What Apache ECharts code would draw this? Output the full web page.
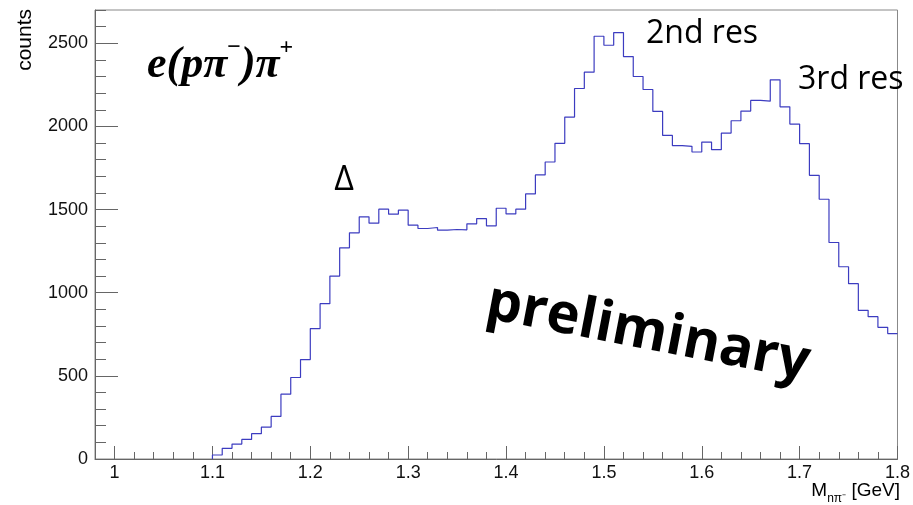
<!DOCTYPE html>
<html>
<head>
<meta charset="utf-8">
<script src="https://cdn.jsdelivr.net/npm/echarts@6/dist/echarts.min.js"></script>
<style>
  html, body { margin: 0; padding: 0; background: #fff; }
  #chart { width: 913px; height: 505px; }
</style>
</head>
<body>
<div id="chart"></div>
<script>
// histogram: 70 bins of 10 MeV from 1.10 to 1.80 GeV
const binStart = 1.10;
const binWidth = 0.01;
const counts = [
  24, 64, 90, 118, 152, 192, 256, 390, 490, 598,
  784, 934, 1100, 1270, 1360, 1456, 1418, 1502, 1472, 1496,
  1406, 1386, 1392, 1376, 1380, 1378, 1414, 1446, 1402, 1508,
  1474, 1502, 1594, 1708, 1786, 1898, 2056, 2228, 2326, 2542,
  2488, 2564, 2420, 2300, 2222, 2090, 1946, 1884, 1880, 1846,
  1906, 1860, 1960, 2034, 2092, 2156, 2152, 2280, 2118, 2014,
  1896, 1706, 1562, 1302, 1156, 1054, 894, 856, 792, 754
];

const xMajorTicks = [1, 1.1, 1.2, 1.3, 1.4, 1.5, 1.6, 1.7, 1.8];
const yMajorTicks = [0, 500, 1000, 1500, 2000, 2500];

const xMinorTicks = [];
for (let i = 0; i <= 41; i++) xMinorTicks.push(Math.round((0.98 + i * 0.02) * 100) / 100);
const yMinorTicks = [];
for (let v = 0; v <= 2700; v += 100) yMinorTicks.push(v);

// step line points at bin edges
const histData = [[binStart, 0]];
counts.forEach((c, i) => {
  histData.push([Math.round((binStart + i * binWidth) * 100) / 100, c]);
});
histData.push([Math.round((binStart + counts.length * binWidth) * 100) / 100, counts[counts.length - 1]]);

const chart = echarts.init(document.getElementById('chart'));

const tickFont = { fontFamily: 'Liberation Sans', fontSize: 18, color: '#111' };
const axisGray = '#666';

chart.setOption({
  animation: false,
  backgroundColor: '#fff',
  grid: {
    left: 95, right: 12, top: 10, bottom: 46,
    show: true, borderColor: '#888', borderWidth: 1
  },
  xAxis: [
    {
      type: 'value', min: 0.98, max: 1.8,
      axisLine: { show: true, lineStyle: { color: axisGray, width: 1 } },
      axisTick: { inside: true, length: 13, customValues: xMajorTicks, lineStyle: { color: axisGray } },
      axisLabel: Object.assign({ margin: 5, customValues: xMajorTicks, formatter: v => String(v) }, tickFont),
      splitLine: { show: false }
    },
    {
      type: 'value', min: 0.98, max: 1.8, position: 'bottom',
      axisLine: { show: false },
      axisTick: { inside: true, length: 7, customValues: xMinorTicks, lineStyle: { color: axisGray } },
      axisLabel: { show: false },
      splitLine: { show: false }
    }
  ],
  yAxis: [
    {
      type: 'value', min: 0, max: 2700,
      axisLine: { show: true, lineStyle: { color: axisGray, width: 1 } },
      axisTick: { inside: true, length: 23, customValues: yMajorTicks, lineStyle: { color: axisGray } },
      axisLabel: Object.assign({ margin: 7, customValues: yMajorTicks, formatter: v => String(v) }, tickFont),
      splitLine: { show: false }
    },
    {
      type: 'value', min: 0, max: 2700, position: 'left',
      axisLine: { show: false },
      axisTick: { inside: true, length: 11, customValues: yMinorTicks, lineStyle: { color: axisGray } },
      axisLabel: { show: false },
      splitLine: { show: false }
    }
  ],
  series: [
    {
      type: 'line',
      step: 'end',
      data: histData,
      showSymbol: false,
      silent: true,
      lineStyle: { color: '#3c3cc0', width: 1.2 }
    }
  ],
  graphic: [
    {
      type: 'text', x: 25, y: 9, rotation: Math.PI / 2,
      style: { text: 'counts', font: '21px "Liberation Sans"', fill: '#000', align: 'right', verticalAlign: 'middle' }
    },
    {
      type: 'text', x: 900, y: 493,
      style: {
        text: '{t|M}{s|nπ⁻}{t| [GeV]}',
        align: 'right', verticalAlign: 'middle',
        rich: {
          t: { fontFamily: 'Liberation Sans', fontSize: 19, fill: '#000', lineHeight: 24, verticalAlign: 'top' },
          s: { fontFamily: 'Liberation Sans', fontSize: 12, fill: '#000', lineHeight: 13, verticalAlign: 'bottom' }
        }
      }
    },
    {
      type: 'text', x: 147, y: 62,
      style: {
        text: '{a|e(pπ}{u|−}{a|)π}{u|+}',
        align: 'left', verticalAlign: 'middle',
        rich: {
          a: { fontFamily: 'Liberation Serif', fontStyle: 'italic', fontWeight: 'bold', fontSize: 44, fill: '#000', lineHeight: 52, verticalAlign: 'bottom' },
          u: { fontFamily: 'Liberation Serif', fontWeight: 'bold', fontSize: 24, fill: '#000', lineHeight: 26, verticalAlign: 'top' }
        }
      }
    },
    {
      type: 'text', x: 344, y: 180,
      style: { text: 'Δ', font: '34px "Open Sans"', fill: '#000', align: 'center', verticalAlign: 'middle' }
    },
    {
      type: 'text', x: 646, y: 34,
      style: { text: '2nd res', font: '32px "Open Sans"', fill: '#000', align: 'left', verticalAlign: 'middle' }
    },
    {
      type: 'text', x: 798, y: 80,
      style: { text: '3rd res', font: '32px "Open Sans"', fill: '#000', align: 'left', verticalAlign: 'middle' }
    },
    {
      type: 'text', x: 648, y: 333, rotation: -0.19,
      style: { text: 'preliminary', font: 'bold 56px "Open Sans"', fill: '#000', align: 'center', verticalAlign: 'middle' }
    }
  ]
});
</script>
</body>
</html>
